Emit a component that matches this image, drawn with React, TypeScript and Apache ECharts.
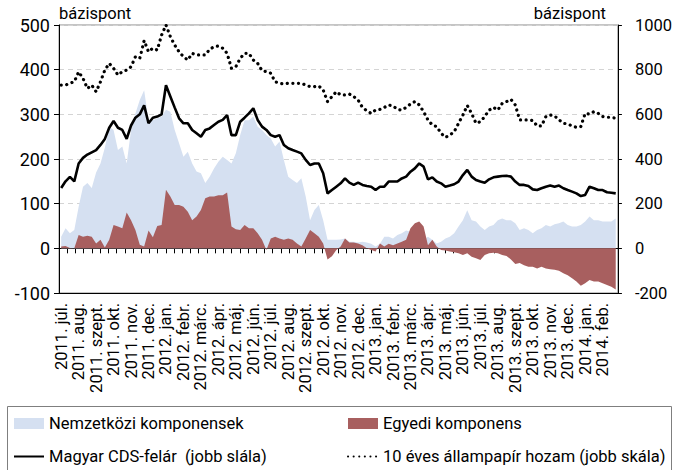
import React, { useEffect, useRef } from 'react';
import * as echarts from 'echarts';

// Monthly axis labels (each month split into 4 weekly observations)
const months = [
  '2011. júl.', '2011. aug.', '2011. szept.', '2011. okt.', '2011. nov.', '2011. dec.',
  '2012. jan.', '2012. febr.', '2012. márc.', '2012. ápr.', '2012. máj.', '2012. jún.',
  '2012. júl.', '2012. aug.', '2012. szept.', '2012. okt.', '2012. nov.', '2012. dec.',
  '2013. jan.', '2013. febr.', '2013. márc.', '2013. ápr.', '2013. máj.', '2013. jún.',
  '2013. júl.', '2013. aug.', '2013. szept.', '2013. okt.', '2013. nov.', '2013. dec.',
  '2014. jan.', '2014. feb.',
];
const weeksPerMonth = 4;

// Left axis (bázispont)
const nemzetkozi = [
  26, 45, 34, 41, 93, 138, 146, 135, 170, 190,
  225, 272, 265, 220, 228, 190, 265, 302, 332, 354,
  287, 287, 291, 295, 310, 306, 265, 235, 205, 216,
  190, 172, 168, 146, 160, 179, 194, 205, 198, 190,
  213, 254, 287, 287, 295, 272, 265, 254, 246, 228,
  239, 198, 160, 153, 146, 157, 116, 63, 86, 97,
  63, 19, 19, 19, 20, 22, 15, 15, 13, 15,
  13, 10, 4, 10, 26, 26, 22, 30, 34, 40,
  37, 26, 19, 19, 26, 19, 11, 15, 22, 26,
  34, 49, 63, 85, 63, 60, 49, 41, 49, 52,
  63, 67, 63, 63, 56, 41, 45, 41, 34, 41,
  45, 52, 49, 54, 56, 60, 52, 49, 49, 52,
  60, 71, 63, 63, 60, 60, 60, 67,
];
const egyedi = [
  4, 5, 1, 0, 30, 26, 28, 26, 11, 19,
  2, 19, 52, 49, 45, 80, 63, 41, 8, 4,
  40, 25, 50, 52, 131, 116, 97, 97, 93, 82,
  63, 71, 86, 112, 116, 116, 119, 119, 125, 49,
  43, 41, 52, 45, 45, 34, 19, -4, 22, 26,
  22, 19, 22, 19, 11, 4, 22, 41, 34, 26,
  11, -25, -18, -4, 4, 22, 13, 13, 11, 7,
  0, -4, -7, 11, 4, 10, 7, 11, 15, 19,
  45, 56, 60, 49, 7, 19, 4, -4, -5, -7,
  -9, -11, -15, -11, -19, -22, -26, -15, -11, -10,
  -11, -15, -17, -25, -35, -33, -38, -41, -41, -45,
  -41, -45, -47, -48, -50, -56, -60, -67, -74, -84,
  -78, -71, -74, -74, -78, -82, -86, -92,
];
// Right axis (bázispont)
const cds = [
  270, 300, 320, 300, 380, 405, 420, 430, 440, 463,
  490, 540, 570, 540, 530, 490, 550, 585, 600, 640,
  560, 585, 590, 600, 730, 680, 630, 582, 560, 560,
  530, 515, 500, 530, 537, 552, 567, 575, 597, 507,
  507, 567, 585, 604, 627, 575, 545, 530, 507, 500,
  507, 463, 448, 440, 433, 425, 396, 373, 380, 380,
  336, 246, 261, 276, 291, 313, 294, 284, 294, 284,
  279, 276, 261, 276, 276, 299, 299, 299, 313, 321,
  343, 358, 380, 366, 309, 318, 299, 291, 276, 281,
  287, 299, 328, 351, 321, 306, 299, 294, 309, 318,
  321, 324, 325, 321, 299, 284, 284, 279, 264, 261,
  269, 276, 281, 276, 281, 269, 261, 254, 246, 234,
  239, 276, 269, 261, 261, 251, 249, 246,
];
const hozam = [
  731, 731, 739, 746, 790, 761, 716, 731, 701, 746,
  798, 828, 806, 776, 791, 798, 813, 858, 851, 930,
  880, 896, 888, 955, 1000, 948, 910, 880, 858, 843,
  873, 866, 866, 866, 891, 903, 906, 896, 873, 806,
  813, 851, 873, 873, 843, 828, 796, 791, 784, 746,
  739, 736, 739, 739, 739, 739, 731, 724, 724, 727,
  709, 657, 679, 701, 687, 687, 691, 679, 664, 631,
  616, 604, 619, 622, 631, 642, 637, 622, 619, 631,
  646, 657, 642, 612, 575, 552, 545, 515, 497, 507,
  522, 560, 597, 640, 604, 560, 567, 590, 619, 631,
  619, 649, 657, 667, 642, 575, 575, 575, 572, 548,
  548, 590, 597, 593, 575, 560, 557, 548, 542, 545,
  604, 601, 612, 604, 590, 587, 587, 582,
];

const seriesNames = [
  'Nemzetközi komponensek',
  'Egyedi komponens',
  'Magyar CDS-felár  (jobb slála)',
  '10 éves állampapír hozam (jobb skála)',
];

export default function App() {
  const ref = useRef<HTMLDivElement>(null);
  useEffect(() => {
    const chart = echarts.init(ref.current as HTMLDivElement, null, { renderer: 'svg' });
    const font = 'Roboto';
    const fs = 16.5;
    const categories = nemzetkozi.map(
      (_, i) => `${months[Math.floor(i / weeksPerMonth)]} ${(i % weeksPerMonth) + 1}`
    );
    const legendCommon = {
      top: 415,
      height: 60,
      padding: 0,
      orient: 'vertical',
      itemWidth: 30,
      itemHeight: 11,
      itemGap: 16,
      selectedMode: false,
      textStyle: { fontSize: fs, fontFamily: font, color: '#000' },
    };
    const hiddenSymbol = { opacity: 0, borderWidth: 0 };
    chart.setOption({
      animation: false,
      textStyle: { fontFamily: font, color: '#000' },
      grid: {
        left: 59, right: 56, top: 25, bottom: 177,
        show: true, borderColor: '#8a8a8a', borderWidth: 1,
      },
      xAxis: [
        {
          type: 'category',
          data: categories,
          boundaryGap: true,
          axisLine: { onZero: false, lineStyle: { color: '#000', width: 1 } },
          axisTick: { show: false },
          splitLine: { show: false },
          axisLabel: {
            rotate: 90,
            interval: (i: number) => i % weeksPerMonth === 0,
            formatter: (_v: string, i: number) => months[Math.floor(i / weeksPerMonth)],
            fontSize: fs,
            fontFamily: font,
            color: '#000',
            margin: 10,
          },
        },
        {
          type: 'value',
          min: 0,
          max: 68,
          interval: 1,
          position: 'bottom',
          axisLine: { show: true, onZero: true, onZeroAxisIndex: 0, lineStyle: { color: '#000', width: 1 } },
          axisTick: { show: true, length: 5, lineStyle: { color: '#000' } },
          axisLabel: { show: false },
          splitLine: { show: false },
        },
      ],
      yAxis: [
        {
          type: 'value',
          min: -100,
          max: 500,
          interval: 100,
          position: 'left',
          name: 'bázispont',
          nameLocation: 'end',
          nameGap: 3,
          nameTextStyle: { align: 'left', fontSize: fs, fontFamily: font, color: '#000' },
          axisLine: { show: true, lineStyle: { color: '#000', width: 1 } },
          axisTick: { show: true, length: 5, lineStyle: { color: '#000' } },
          axisLabel: { fontSize: 18, fontFamily: font, color: '#000', margin: 9, formatter: (v: number) => String(v) },
          splitLine: { show: true, lineStyle: { color: '#d4d4d4', type: [5, 4], width: 1 } },
        },
        {
          type: 'value',
          min: -200,
          max: 1000,
          interval: 200,
          position: 'right',
          name: 'bázispont',
          nameLocation: 'end',
          nameGap: 3,
          nameTextStyle: { align: 'right', fontSize: fs, fontFamily: font, color: '#000', padding: [0, 12, 0, 0] },
          axisLine: { show: true, lineStyle: { color: '#000', width: 1 } },
          axisTick: { show: true, length: 4, lineStyle: { color: '#000' } },
          axisLabel: { fontSize: fs, fontFamily: font, color: '#000', margin: 17, formatter: (v: number) => String(v) },
          splitLine: { show: false },
        },
      ],
      legend: [
        {
          ...legendCommon,
          left: 13,
          data: [
            { name: seriesNames[0], icon: 'rect' },
            { name: seriesNames[2], itemStyle: hiddenSymbol },
          ],
        },
        {
          ...legendCommon,
          left: 347,
          data: [
            { name: seriesNames[1], icon: 'rect' },
            { name: seriesNames[3], itemStyle: hiddenSymbol },
          ],
        },
      ],
      graphic: [
        {
          type: 'rect',
          silent: true,
          shape: { x: 7.5, y: 406.5, width: 664, height: 80 },
          style: { fill: 'none', stroke: '#7f7f7f', lineWidth: 1 },
        },
      ],
      series: [
        {
          name: seriesNames[0],
          type: 'line',
          xAxisIndex: 0,
          yAxisIndex: 0,
          data: nemzetkozi,
          symbol: 'none',
          lineStyle: { width: 0, color: '#d5e0f1' },
          itemStyle: { color: '#d5e0f1' },
          areaStyle: { color: '#d5e0f1', opacity: 1 },
          z: 1,
        },
        {
          name: seriesNames[1],
          type: 'line',
          xAxisIndex: 0,
          yAxisIndex: 0,
          data: egyedi,
          symbol: 'none',
          lineStyle: { width: 0, color: '#a85f5f' },
          itemStyle: { color: '#a85f5f' },
          areaStyle: { color: '#a85f5f', opacity: 1 },
          z: 2,
        },
        {
          name: seriesNames[2],
          type: 'line',
          xAxisIndex: 0,
          yAxisIndex: 1,
          data: cds,
          symbol: 'none',
          lineStyle: { color: '#000', width: 2.6 },
          itemStyle: { color: '#000' },
          z: 3,
        },
        {
          name: seriesNames[3],
          type: 'line',
          xAxisIndex: 0,
          yAxisIndex: 1,
          data: hozam,
          symbol: 'none',
          lineStyle: { color: '#000', width: 3.2, type: [0.1, 5.5], cap: 'round' },
          itemStyle: { color: '#000' },
          z: 3,
        },
      ],
    });
    return () => chart.dispose();
  }, []);
  return (
    <div
      ref={ref}
      style={{ position: 'fixed', left: 0, top: 0, width: 675, height: 470, background: '#fff' }}
    />
  );
}
